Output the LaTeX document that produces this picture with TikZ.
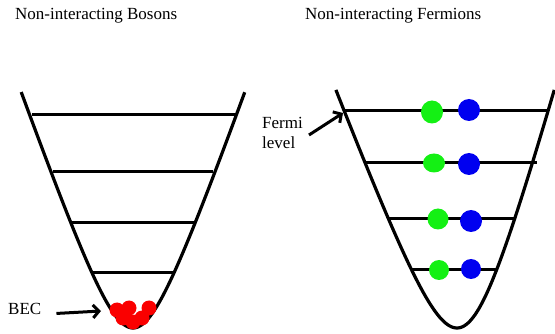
\documentclass[tikz,border=0pt]{standalone}
\usepackage{fontspec}
\setmainfont{Liberation Serif}
\usetikzlibrary{arrows.meta}
\definecolor{bgreen}{RGB}{20,240,20}
\definecolor{bblue}{RGB}{0,0,240}
\definecolor{bred}{RGB}{250,0,0}
\begin{document}
\begin{tikzpicture}[x=1pt,y=-1pt,
  well/.style={line width=3.2pt},
  level/.style={line width=3pt},
  lbl/.style={font=\fontsize{17}{19}\selectfont, inner sep=0pt, anchor=base west},
  ptr/.style={line width=3pt, -{Straight Barb[length=6pt,width=13pt,line width=3pt]}},
  gball/.style={fill=bgreen},
  bball/.style={fill=bblue},
  rball/.style={fill=bred}]
\useasboundingbox (0,0) rectangle (555,334);
% titles
\node[lbl] (tb) at (15,20) {Non-interacting Bosons};
\node[lbl] (tf) at (305,20) {Non-interacting Fermions};
% left well
\draw[well] plot[domain=-1.92:1.92, samples=80, smooth] ({133+33.5*sinh(\x)},{328-95*(cosh(\x)-1)});
\draw[level] (32,115) -- (237,115);
\draw[level] (53,172) -- (213,172);
\draw[level] (72,223) -- (195,223);
\draw[level] (92,273) -- (174,273);
% red balls
\foreach \p in {(117,310),(129,308),(149,308),(123,318),(133,322),(142,318)}
  \fill[rball] \p circle (7.5);
% BEC label
\node[lbl] (bec) at (8,314) {BEC};
\coordinate (becend) at (101,311);
\draw[ptr] (bec.east) ++(15pt,-5pt) -- (becend);
% right well
\draw[well] plot[domain=-1.769:1.769, samples=80, smooth] ({457-0.05*(118*(cosh(\x)-1))+38.35*sinh(\x)},{328-118*(cosh(\x)-1)});
\draw[level] (343,111) -- (548,111);
\draw[level] (365,163) -- (537,163);
\draw[level] (389,219) -- (515,219);
\draw[level] (412,270) -- (497,270);
% fermion balls
\fill[gball] (432,112) ellipse (11 and 11.5);
\fill[bball] (469,110) circle (11);
\fill[gball] (434,163) ellipse (11 and 9.5);
\fill[bball] (469,164) circle (11);
\fill[gball] (438,219) circle (10.5);
\fill[bball] (471,221) circle (11);
\fill[gball] (439,270) circle (10);
\fill[bball] (471,269) circle (10);
% Fermi level label
\node[lbl] (fermi) at (262,129) {Fermi};
\node[lbl] (lev) at (262,149) {level};
\coordinate (fstart) at (309,135);
\coordinate (fend) at (343,113);
\draw[ptr] (fstart) -- (fend);
\end{tikzpicture}
\end{document}
